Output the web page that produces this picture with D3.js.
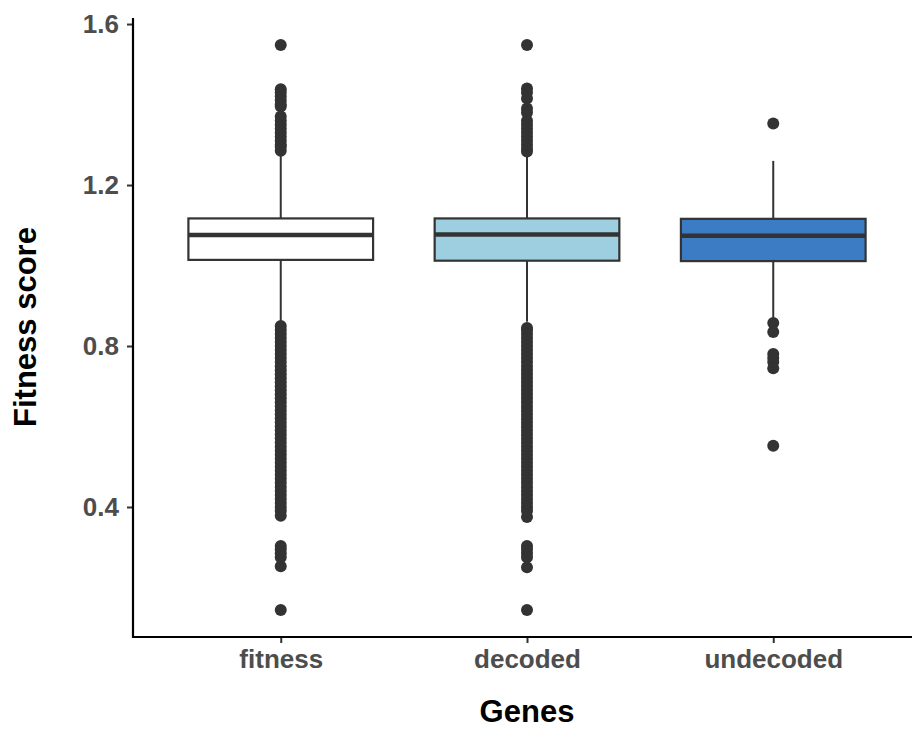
<!DOCTYPE html>
<html>
<head>
<meta charset="utf-8">
<script src="https://cdn.jsdelivr.net/npm/d3@7"></script>
<style>
  body { margin: 0; background: #fff; }
  svg { display: block; font-family: "Liberation Sans", Arial, Helvetica, sans-serif; }
</style>
</head>
<body>
<svg></svg>
<script>
// categories and summary stats
var genes = ["fitness", "decoded", "undecoded"];
var fills = ["#ffffff", "#9ecfe0", "#3b7cc4"];
var q1 = [1.014, 1.012, 1.011];
var medians = [1.076, 1.077, 1.074];
var q3 = [1.117, 1.117, 1.116];
var whiskerLow = [0.86, 0.86, 0.87];
var whiskerHigh = [1.28, 1.28, 1.26];
var yTicks = [0.4, 0.8, 1.2, 1.6];

// outliers, one list per gene
var fitnessOutliers = [1.548,
  1.438, 1.43, 1.42, 1.41, 1.40, 1.395, 1.37, 1.36, 1.35, 1.34, 1.33, 1.32, 1.31, 1.30, 1.295, 1.285,
  0.85, 0.84, 0.83, 0.82, 0.81, 0.80, 0.79, 0.78, 0.77, 0.76, 0.75, 0.74, 0.73, 0.72, 0.71, 0.70,
  0.69, 0.68, 0.67, 0.66, 0.65, 0.64, 0.63, 0.62, 0.61, 0.60, 0.59, 0.58, 0.57, 0.56, 0.55, 0.54,
  0.53, 0.52, 0.51, 0.50, 0.49, 0.48, 0.47, 0.46, 0.45, 0.44, 0.43, 0.42, 0.41, 0.40, 0.39, 0.378,
  0.303, 0.295, 0.285, 0.275, 0.253,
  0.144];
var decodedOutliers = [1.548,
  1.44, 1.43, 1.415, 1.39, 1.38, 1.36, 1.35, 1.34, 1.33, 1.32, 1.31, 1.30, 1.29, 1.283,
  0.845, 0.84, 0.83, 0.82, 0.81, 0.80, 0.79, 0.78, 0.77, 0.76, 0.75, 0.74, 0.73, 0.72, 0.71, 0.70,
  0.69, 0.68, 0.67, 0.66, 0.65, 0.64, 0.63, 0.62, 0.61, 0.60, 0.59, 0.58, 0.57, 0.56, 0.55, 0.54,
  0.53, 0.52, 0.51, 0.50, 0.49, 0.48, 0.47, 0.46, 0.45, 0.44, 0.43, 0.42, 0.41, 0.40, 0.39, 0.375,
  0.303, 0.295, 0.285, 0.275, 0.25,
  0.144];
var undecodedOutliers = [1.353, 0.857, 0.835, 0.78, 0.77, 0.76, 0.745, 0.552];
var outliers = [fitnessOutliers, decodedOutliers, undecodedOutliers];

var screen = {width: 912, height: 729};
var plot = {left: 133, right: 921, top: 18, bottom: 637};

var svg = d3.select("svg")
    .attr("width", screen.width)
    .attr("height", screen.height);

var xScale = d3.scalePoint()
    .domain(genes)
    .range([plot.left, plot.right])
    .padding(0.6);

var yScale = d3.scaleLinear()
    .domain([0.077, 1.615])
    .range([plot.bottom, plot.top]);

var boxWidth = xScale.step() * 0.75;
var ink = "#333333";

var boxes = genes.map(function(g, i) {
    return {gene: g, fill: fills[i], q1: q1[i], med: medians[i], q3: q3[i],
            lo: whiskerLow[i], hi: whiskerHigh[i], out: outliers[i]};
});

var g = svg.append("g").attr("id", "boxes");

var box = g.selectAll("g.box")
    .data(boxes)
    .enter()
    .append("g")
    .attr("class", "box");

// whiskers
box.append("line")
    .attr("x1", function(d) { return xScale(d.gene); })
    .attr("x2", function(d) { return xScale(d.gene); })
    .attr("y1", function(d) { return yScale(d.hi); })
    .attr("y2", function(d) { return yScale(d.q3); })
    .attr("stroke", ink).attr("stroke-width", 2);
box.append("line")
    .attr("x1", function(d) { return xScale(d.gene); })
    .attr("x2", function(d) { return xScale(d.gene); })
    .attr("y1", function(d) { return yScale(d.q1); })
    .attr("y2", function(d) { return yScale(d.lo); })
    .attr("stroke", ink).attr("stroke-width", 2);

// outliers
box.selectAll("circle")
    .data(function(d) { return d.out.map(function(v) { return {gene: d.gene, v: v}; }); })
    .enter()
    .append("circle")
    .attr("cx", function(d) { return xScale(d.gene); })
    .attr("cy", function(d) { return yScale(d.v); })
    .attr("r", 6)
    .attr("fill", ink);

// boxes
box.append("rect")
    .attr("x", function(d) { return xScale(d.gene) - boxWidth / 2; })
    .attr("y", function(d) { return yScale(d.q3); })
    .attr("width", boxWidth)
    .attr("height", function(d) { return yScale(d.q1) - yScale(d.q3); })
    .attr("fill", function(d) { return d.fill; })
    .attr("stroke", ink)
    .attr("stroke-width", 2.2);

box.append("line")
    .attr("x1", function(d) { return xScale(d.gene) - boxWidth / 2; })
    .attr("x2", function(d) { return xScale(d.gene) + boxWidth / 2; })
    .attr("y1", function(d) { return yScale(d.med); })
    .attr("y2", function(d) { return yScale(d.med); })
    .attr("stroke", ink)
    .attr("stroke-width", 4.5);

// axes
var xAxis = d3.axisBottom(xScale).tickSizeOuter(0).tickSize(6).tickPadding(7);
var yAxis = d3.axisLeft(yScale).tickValues(yTicks).tickFormat(d3.format(".1f"))
    .tickSizeOuter(0).tickSize(6).tickPadding(8);

var xg = svg.append("g")
    .attr("transform", "translate(0," + plot.bottom + ")")
    .call(xAxis);
var yg = svg.append("g")
    .attr("transform", "translate(" + plot.left + ",0)")
    .call(yAxis);

[xg, yg].forEach(function(a) {
    a.select(".domain").remove();
    a.selectAll(".tick line").attr("stroke", "#333").attr("stroke-width", 2);
    a.selectAll(".tick text")
        .attr("fill", "#4d4d4d")
        .style("font-size", "26px")
        .style("font-weight", "bold")
        .style("font-family", "'Liberation Sans', Arial, Helvetica, sans-serif");
});

// axis lines meeting at the corner
svg.append("path")
    .attr("d", "M" + plot.left + "," + plot.top + "V" + plot.bottom + "H" + screen.width)
    .attr("fill", "none")
    .attr("stroke", "#000")
    .attr("stroke-width", 2.2);

svg.append("text")
    .attr("x", xScale("decoded"))
    .attr("y", 722)
    .attr("text-anchor", "middle")
    .style("font-size", "31px")
    .style("font-weight", "bold")
    .text("Genes");

svg.append("text")
    .attr("transform", "translate(36," + 327 + ") rotate(-90)")
    .attr("text-anchor", "middle")
    .style("font-size", "31px")
    .style("font-weight", "bold")
    .text("Fitness score");
</script>
</body>
</html>
